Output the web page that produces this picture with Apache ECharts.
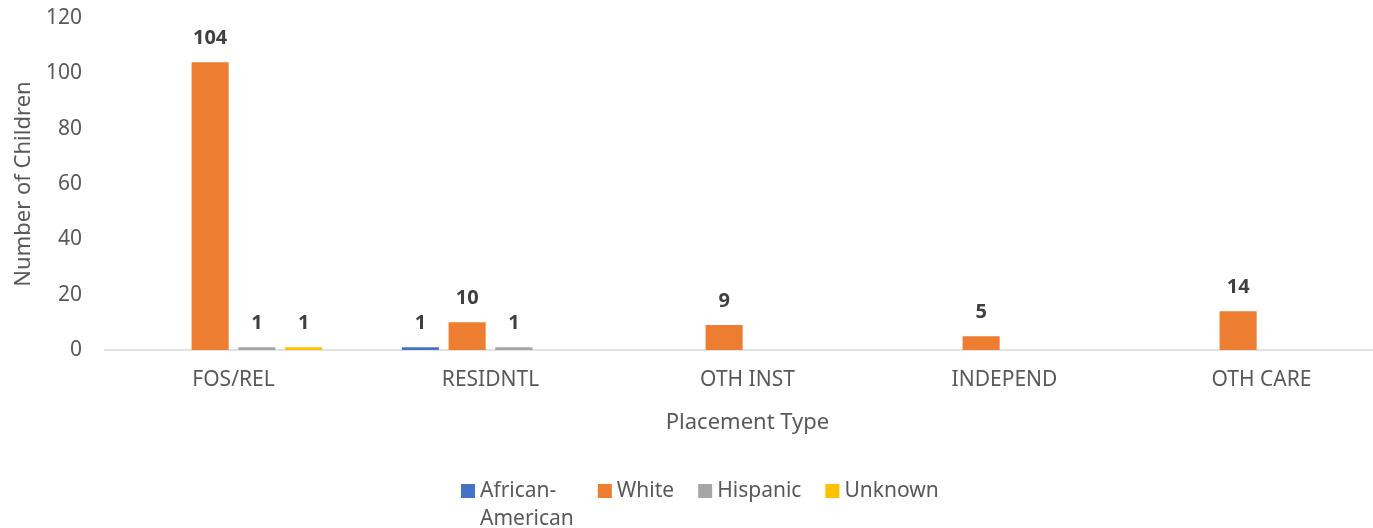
<!DOCTYPE html>
<html>
<head>
<meta charset="utf-8">
<script src="https://cdn.jsdelivr.net/npm/echarts@6/dist/echarts.min.js"></script>
<style>
  html, body { margin: 0; padding: 0; background: #fff; }
  #placement { width: 1373px; height: 528px; }
</style>
</head>
<body>
<div id="placement"></div>
<script>
var categories = ['FOS/REL', 'RESIDNTL', 'OTH INST', 'INDEPEND', 'OTH CARE'];
var africanAmerican = [0, 1, 0, 0, 0];
var white = [104, 10, 9, 5, 14];
var hispanic = [1, 1, 0, 0, 0];
var unknown = [1, 0, 0, 0, 0];
var yTicks = { min: 0, max: 120, step: 20 };

(function(){
    var font = '"Noto Sans", sans-serif';
    var chart = echarts.init(document.getElementById('placement'));

    var labelOpt = {
        show: true,
        position: 'top',
        distance: 14,
        fontFamily: font,
        fontSize: 20,
        fontWeight: 'bold',
        color: '#404040',
        formatter: function(p){ return p.value ? String(p.value) : ''; }
    };

    var makeSeries = function(name, data, color){
        return {
            name: name,
            type: 'bar',
            data: data,
            barGap: '26%',
            barCategoryGap: '31%',
            itemStyle: { color: color },
            label: labelOpt
        };
    };

    var option = {
        animation: false,
        textStyle: { fontFamily: font },
        grid: {
            left: 105,
            top: 18,
            width: 1285,
            bottom: 178,
            outerBoundsMode: 'none'
        },
        legend: {
            left: 461,
            top: 449,
            padding: 0,
            itemWidth: 14,
            itemHeight: 14,
            itemGap: 24,
            icon: 'rect',
            textStyle: { fontFamily: font, fontSize: 21, color: '#595959', lineHeight: 28 },
            formatter: function(name){
                // long name wraps, first line level with the swatch (empty line above keeps it centred)
                return name === 'African-American' ? ' \nAfrican-\nAmerican' : name;
            },
            data: ['African-American', 'White', 'Hispanic', 'Unknown']
        },
        xAxis: {
            type: 'category',
            data: categories,
            name: 'Placement Type',
            nameLocation: 'middle',
            nameGap: 62,
            nameTextStyle: { fontFamily: font, fontSize: 22, color: '#595959' },
            axisLine: { lineStyle: { color: '#d9d9d9', width: 1.5 } },
            axisTick: { show: false },
            axisLabel: { fontFamily: font, fontSize: 21, color: '#595959', margin: 20 }
        },
        yAxis: {
            type: 'value',
            min: yTicks.min,
            max: yTicks.max,
            interval: yTicks.step,
            name: 'Number of Children',
            nameLocation: 'middle',
            nameGap: 70,
            nameTextStyle: { fontFamily: font, fontSize: 22, color: '#595959' },
            axisLine: { show: false },
            axisTick: { show: false },
            splitLine: { show: false },
            axisLabel: { fontFamily: font, fontSize: 21, color: '#595959', margin: 23 }
        },
        series: [
            makeSeries('African-American', africanAmerican, '#4472C4'),
            makeSeries('White', white, '#ED7D31'),
            makeSeries('Hispanic', hispanic, '#A5A5A5'),
            makeSeries('Unknown', unknown, '#FFC000')
        ]
    };
    chart.setOption(option);
})();
</script>
</body>
</html>
